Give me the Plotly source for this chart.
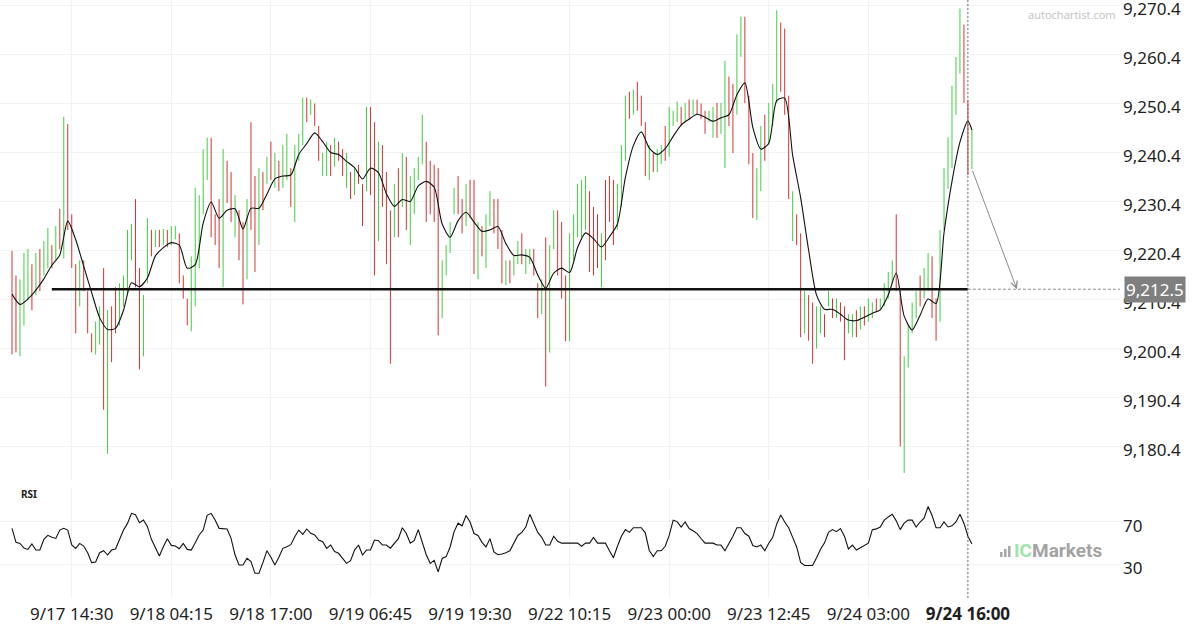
import plotly.graph_objects as go

# ---------------- data ----------------
x_labels = ["9/17 14:30", "9/18 04:15", "9/18 17:00", "9/19 06:45", "9/19 19:30",
            "9/22 10:15", "9/23 00:00", "9/23 12:45", "9/24 03:00", "<b>9/24 16:00</b>"]
label_bars = [15, 40, 65, 90, 115, 140, 165, 190, 215, 240]

high = [
    9220.3, 9215.3, 9214.5, 9219.9, 9220.7, 9217.6, 9219.9, 9220.7, 9222.3, 9225.0,
    9221.5, 9225.4, 9228.9, 9247.7, 9246.2, 9227.8, 9217.6, 9218.4, 9218.4, 9212.1,
    9203.5, 9205.9, 9209.0, 9216.8, 9208.2, 9209.0, 9212.9, 9213.7, 9215.3, 9224.6,
    9225.8, 9230.9, 9216.8, 9211.3, 9227.0, 9224.6, 9224.6, 9224.6, 9224.8, 9224.6,
    9225.4, 9225.4, 9223.9, 9215.3, 9210.6, 9219.2, 9233.2, 9231.7, 9241.1, 9243.4,
    9243.4, 9227.8, 9230.9, 9241.1, 9238.7, 9236.4, 9231.7, 9228.6, 9226.2, 9230.9,
    9246.6, 9235.6, 9237.2, 9236.4, 9239.5, 9242.6, 9240.3, 9238.7, 9241.9, 9244.2,
    9237.2, 9241.9, 9244.2, 9251.6, 9251.6, 9251.2, 9250.4, 9245.8, 9240.3, 9242.6,
    9241.9, 9243.4, 9242.6, 9241.1, 9240.3, 9236.4, 9237.2, 9237.9, 9234.0, 9249.7,
    9249.7, 9246.6, 9242.6, 9241.9, 9236.4, 9228.6, 9234.0, 9237.2, 9240.3, 9239.5,
    9235.6, 9237.2, 9239.5, 9248.1, 9242.6, 9238.7, 9237.9, 9237.2, 9218.4, 9221.5,
    9226.2, 9233.2, 9235.6, 9230.9, 9234.0, 9234.8, 9234.8, 9226.2, 9225.4, 9227.8,
    9232.5, 9230.9, 9230.9, 9224.6, 9218.4, 9218.4, 9219.2, 9222.3, 9223.9, 9220.7,
    9220.7, 9220.7, 9213.7, 9214.5, 9223.1, 9221.5, 9228.6, 9228.6, 9226.2, 9215.3,
    9223.9, 9227.8, 9234.0, 9234.8, 9235.6, 9232.5, 9229.3, 9227.8, 9223.9, 9234.8,
    9235.6, 9234.8, 9234.0, 9241.9, 9252.0, 9252.8, 9253.2, 9254.8, 9252.0, 9246.6,
    9241.9, 9240.3, 9241.1, 9241.9, 9245.8, 9249.7, 9248.9, 9250.8, 9249.7, 9250.5,
    9251.2, 9251.2, 9251.2, 9250.4, 9248.9, 9248.9, 9249.7, 9250.5, 9250.5, 9259.1,
    9255.9, 9254.4, 9264.5, 9268.1, 9268.1, 9252.0, 9240.3, 9237.2, 9245.8, 9248.1,
    9250.5, 9254.4, 9269.4, 9266.9, 9265.7, 9252.0, 9232.5, 9227.8, 9223.9, 9212.1,
    9211.3, 9209.8, 9209.0, 9209.0, 9207.4, 9212.1, 9210.6, 9210.6, 9209.8, 9209.0,
    9207.4, 9207.4, 9208.2, 9209.0, 9209.0, 9210.6, 9209.8, 9210.6, 9210.6, 9213.7,
    9216.0, 9218.4, 9227.8, 9212.1, 9198.8, 9205.1, 9209.8, 9212.1, 9215.3, 9216.8,
    9219.9, 9219.2, 9210.6, 9224.6, 9237.2, 9243.5, 9254.0, 9259.9, 9269.8, 9266.5,
    9251.0, 9245.2,
]

low = [
    9199.2, 9199.6, 9198.8, 9205.1, 9210.6, 9208.2, 9211.3, 9212.1, 9215.3, 9216.8,
    9216.8, 9218.4, 9220.7, 9218.8, 9224.6, 9216.8, 9203.5, 9209.0, 9212.1, 9203.5,
    9199.6, 9199.2, 9201.2, 9187.9, 9178.9, 9197.6, 9203.5, 9205.1, 9209.0, 9211.3,
    9218.4, 9212.9, 9196.1, 9198.8, 9213.7, 9219.2, 9221.1, 9221.1, 9221.5, 9221.1,
    9221.5, 9222.7, 9213.7, 9210.6, 9205.1, 9203.9, 9209.0, 9216.8, 9227.8, 9234.8,
    9223.1, 9221.5, 9216.8, 9212.9, 9230.1, 9226.2, 9223.1, 9218.4, 9209.4, 9214.5,
    9224.6, 9216.0, 9221.5, 9228.6, 9234.0, 9234.8, 9233.2, 9232.5, 9233.2, 9234.8,
    9229.3, 9226.2, 9238.7, 9241.9, 9246.6, 9248.1, 9245.8, 9238.7, 9235.6, 9235.6,
    9235.6, 9237.5, 9238.7, 9235.6, 9233.2, 9230.9, 9231.7, 9234.0, 9225.4, 9232.5,
    9231.7, 9215.3, 9222.3, 9229.3, 9217.6, 9197.3, 9223.1, 9223.1, 9229.3, 9224.6,
    9221.5, 9227.8, 9234.8, 9238.0, 9226.2, 9227.8, 9226.2, 9203.1, 9206.6, 9215.3,
    9219.9, 9227.8, 9227.8, 9223.9, 9225.4, 9227.0, 9215.6, 9214.5, 9219.2, 9216.8,
    9225.4, 9223.9, 9220.7, 9213.7, 9213.3, 9213.7, 9215.3, 9217.6, 9217.6, 9215.6,
    9217.6, 9215.3, 9206.6, 9207.4, 9192.6, 9199.6, 9220.7, 9215.3, 9210.6, 9201.9,
    9201.9, 9218.4, 9223.1, 9223.1, 9224.6, 9216.0, 9215.3, 9216.8, 9212.9, 9218.4,
    9226.2, 9221.5, 9224.6, 9229.3, 9238.7, 9247.3, 9248.1, 9248.9, 9245.8, 9235.6,
    9234.8, 9236.4, 9236.4, 9238.0, 9238.7, 9239.5, 9245.8, 9246.6, 9245.8, 9246.6,
    9247.3, 9248.1, 9248.1, 9247.3, 9244.2, 9246.6, 9243.4, 9243.4, 9244.2, 9237.2,
    9245.8, 9240.3, 9248.1, 9259.9, 9250.5, 9238.0, 9227.0, 9226.6, 9232.5, 9238.7,
    9241.9, 9245.8, 9250.5, 9252.8, 9248.1, 9230.9, 9222.3, 9221.5, 9202.7, 9203.5,
    9202.0, 9197.3, 9200.4, 9203.5, 9202.7, 9209.0, 9206.6, 9206.6, 9205.9, 9198.0,
    9203.5, 9202.7, 9202.7, 9204.3, 9205.1, 9205.9, 9206.6, 9207.8, 9208.2, 9209.0,
    9210.6, 9213.7, 9212.1, 9180.4, 9175.0, 9196.5, 9203.5, 9206.6, 9209.0, 9210.6,
    9212.1, 9206.6, 9202.0, 9205.9, 9224.6, 9233.0, 9237.2, 9248.1, 9256.5, 9250.5,
    9235.8, 9237.0,
]

open_ = [
    9214, 9212, 9203, 9209, 9213, 9216, 9213, 9219, 9217, 9219,
    9220.5, 9220, 9227, 9222, 9240, 9226, 9216, 9211, 9217, 9211,
    9203, 9200.5, 9203, 9208, 9190, 9206, 9211, 9206, 9211, 9214,
    9220, 9226, 9214, 9201, 9215, 9224, 9221.5, 9224, 9222, 9224,
    9222, 9223, 9223, 9215, 9210, 9206, 9214, 9220, 9230, 9237,
    9242, 9227, 9229, 9218, 9238, 9235, 9225, 9228, 9224, 9216,
    9242, 9233, 9224, 9235.5, 9235, 9241, 9234.5, 9238, 9235, 9237,
    9236.5, 9229, 9239.5, 9243, 9251, 9248.5, 9250, 9245.5, 9236, 9237,
    9241, 9238, 9242, 9240.5, 9234, 9236, 9232.5, 9237.5, 9233.5, 9234,
    9248, 9240, 9225, 9240.5, 9234, 9226, 9224.5, 9235.5, 9231, 9238,
    9223.5, 9229, 9235.5, 9239.5, 9241, 9237, 9236.5, 9232, 9208, 9216,
    9221, 9228.5, 9234.5, 9230, 9226.5, 9234, 9229, 9216.5, 9224.5, 9218.5,
    9226.5, 9230, 9229.5, 9223, 9214, 9217.5, 9216, 9218.5, 9223, 9216.5,
    9218, 9220, 9213, 9208.5, 9215, 9202, 9221.5, 9227, 9224, 9213.5,
    9204, 9219.5, 9224.5, 9225, 9226, 9230, 9227.5, 9226, 9214.5, 9232,
    9234.5, 9233, 9226, 9231, 9240.5, 9252, 9249, 9254, 9251.5, 9245.5,
    9236, 9240, 9237.2, 9238.5, 9245, 9240.5, 9246.2, 9247, 9249.3, 9247,
    9250.8, 9248.5, 9250.8, 9250, 9248.5, 9246.8, 9244, 9250, 9245, 9243,
    9255, 9253, 9249, 9261, 9266, 9250, 9239, 9228, 9234, 9247,
    9243, 9247, 9252, 9265, 9262, 9249, 9223.5, 9227, 9221, 9204.5,
    9210.5, 9208, 9201.5, 9204.5, 9207, 9209.5, 9210, 9207.2, 9209.5, 9208,
    9204, 9203.5, 9207.5, 9205, 9208.6, 9206.5, 9207, 9210.3, 9208.5, 9209.5,
    9211.2, 9214.2, 9225, 9211, 9178, 9197.5, 9204.2, 9207.2, 9214.8, 9211.2,
    9213, 9218, 9209.8, 9207, 9225.5, 9234, 9239, 9249.5, 9257.5, 9265.5,
    9250, 9237.5,
]

close = [
    9205, 9203, 9211, 9216, 9218, 9210, 9218, 9214, 9221, 9223.5,
    9218, 9224, 9222, 9240, 9227, 9219, 9206, 9216, 9213, 9205,
    9200.5, 9204, 9207, 9193, 9204, 9199, 9205, 9212, 9214, 9222,
    9224.5, 9215, 9200, 9209, 9225, 9220.5, 9224, 9221.5, 9224.3, 9221.8,
    9225, 9225, 9215, 9211.5, 9206, 9217, 9230, 9229, 9239, 9242,
    9226, 9222.5, 9219, 9238, 9231.5, 9228, 9230, 9220, 9212, 9229,
    9227, 9219, 9235, 9230, 9238.5, 9236, 9239, 9233.5, 9240.5, 9243,
    9230.5, 9240, 9243.5, 9250.5, 9247.5, 9250.8, 9246.5, 9239.5, 9239.5, 9241.5,
    9236.5, 9242.5, 9239.5, 9236.5, 9239.5, 9232, 9236.5, 9234.5, 9226.5, 9247,
    9234, 9220, 9240, 9231, 9220, 9210, 9232.5, 9225, 9239, 9227,
    9233.5, 9236, 9239, 9246.5, 9228, 9229.5, 9228, 9207, 9216.5, 9220.5,
    9225.5, 9232.5, 9229, 9225, 9233, 9228.5, 9218, 9224.5, 9220, 9226,
    9231.5, 9225, 9222.5, 9215, 9217.5, 9214.5, 9218.5, 9221.5, 9218.5, 9220,
    9220.2, 9216, 9207.5, 9213.5, 9197, 9219, 9227.5, 9217, 9212.5, 9203.5,
    9221.5, 9226.5, 9232.5, 9232, 9234, 9218.5, 9217, 9218.5, 9222, 9221,
    9227.5, 9223, 9232.5, 9240, 9250, 9248.5, 9252.5, 9250, 9247, 9237.5,
    9240.5, 9237.2, 9240.5, 9241.5, 9240, 9248.5, 9248.5, 9250.2, 9246.5, 9250,
    9248, 9250.8, 9248.5, 9247.8, 9245, 9248.6, 9249, 9244.2, 9250, 9256,
    9247, 9242, 9263, 9267, 9252, 9240, 9229, 9236, 9244, 9240,
    9249.5, 9253, 9266, 9255, 9250, 9233, 9231, 9222.5, 9205, 9211,
    9203.5, 9199, 9208, 9208.5, 9203.5, 9211.5, 9207.2, 9210, 9206.5, 9200,
    9207, 9206.8, 9203.5, 9208.5, 9205.6, 9210, 9209.5, 9208.2, 9210.3, 9213.2,
    9215.5, 9218, 9214, 9184, 9196, 9204, 9209, 9211.5, 9210, 9216.2,
    9219, 9208, 9203, 9223, 9236, 9242.5, 9252.5, 9258.5, 9268.5, 9252,
    9237, 9244.5,
]

# moving average, sampled every second bar (plus the last bar)
ma_bars = list(range(0, 241, 2)) + [241]
ma = [
    9211.5, 9209.4, 9210.5, 9212.3, 9214.6, 9217.4, 9219.5, 9226.4, 9222.6, 9217.2,
    9211.8, 9206.7, 9204.3, 9204.5, 9208.2, 9213.8, 9213.0, 9214.8, 9219.3, 9221.0,
    9222.0, 9221.5, 9216.8, 9217.5, 9226.0, 9230.3, 9227.0, 9228.6, 9228.9, 9224.8,
    9229.0, 9229.0, 9231.9, 9235.0, 9235.6, 9235.8, 9240.0, 9242.2, 9244.4, 9242.6,
    9240.4, 9240.0, 9238.6, 9237.3, 9235.0, 9237.2, 9236.3, 9232.0, 9229.4, 9230.8,
    9230.4, 9233.6, 9234.5, 9233.3, 9225.8, 9223.1, 9226.5, 9228.2, 9226.2, 9224.3,
    9224.6, 9225.3, 9221.8, 9219.4, 9219.5, 9219.0, 9215.4, 9212.7, 9215.8, 9216.8,
    9215.9, 9221.0, 9224.0, 9222.8, 9221.1, 9223.2, 9225.8, 9235.3, 9241.8, 9244.6,
    9241.3, 9240.0, 9241.2, 9243.7, 9246.0, 9247.2, 9248.2, 9247.6, 9246.8, 9247.5,
    9248.1, 9252.2, 9254.6, 9245.5, 9241.1, 9242.3, 9251.0, 9251.5, 9239.8, 9231.2,
    9220.5, 9211.3, 9208.4, 9208.4, 9207.4, 9206.2, 9206.1, 9206.8, 9207.6, 9208.3,
    9211.3, 9215.8, 9207.0, 9204.2, 9207.2, 9210.5, 9209.6, 9224.0, 9234.5, 9242.5,
    9246.8, 9245.0,
]

rsi = [
    63.7, 50.5, 49.5, 45.0, 43.8, 48.9, 43.2, 43.2, 53.3, 57.1,
    55.2, 54.2, 62.1, 63.7, 62.1, 48.0, 44.8, 49.5, 47.0, 40.7,
    31.3, 31.9, 40.7, 42.6, 38.5, 43.2, 44.2, 52.7, 62.1, 68.4,
    77.9, 76.6, 69.1, 71.6, 65.3, 53.3, 44.8, 37.6, 46.4, 53.9,
    47.6, 47.0, 44.5, 49.5, 43.8, 43.2, 50.2, 57.4, 62.1, 76.0,
    77.9, 71.6, 63.7, 63.7, 63.1, 54.2, 38.5, 29.1, 29.1, 35.4,
    32.2, 21.2, 21.2, 31.3, 42.6, 36.3, 29.1, 36.3, 44.8, 46.4,
    48.3, 55.8, 62.1, 58.0, 63.1, 59.0, 57.4, 52.7, 51.1, 44.8,
    48.0, 41.7, 40.1, 35.4, 30.6, 33.2, 43.2, 48.0, 38.5, 43.2,
    43.2, 52.7, 52.0, 48.0, 48.0, 45.0, 50.0, 54.0, 64.3, 58.8,
    49.7, 52.3, 62.5, 49.7, 38.8, 30.5, 33.4, 22.5, 35.2, 37.0,
    46.1, 60.6, 68.6, 66.1, 75.9, 69.7, 58.8, 57.0, 50.5, 46.1,
    54.0, 41.5, 38.8, 39.5, 40.6, 42.5, 50.5, 57.0, 59.9, 65.0,
    77.0, 67.9, 59.9, 55.2, 47.9, 47.9, 56.3, 51.5, 49.7, 49.7,
    49.7, 49.7, 49.7, 46.8, 49.7, 49.7, 55.2, 49.7, 49.7, 49.7,
    42.5, 35.9, 46.8, 56.3, 62.5, 59.9, 64.3, 64.3, 64.3, 59.5,
    42.8, 37.0, 42.5, 42.5, 46.8, 57.0, 71.5, 70.1, 65.0, 69.7,
    63.5, 61.4, 58.8, 54.1, 49.7, 49.7, 49.7, 47.9, 47.9, 42.5,
    49.0, 56.3, 64.3, 64.3, 58.8, 56.3, 47.5, 46.1, 47.9, 42.5,
    49.7, 55.2, 67.9, 76.3, 69.7, 64.3, 55.2, 46.1, 31.5, 28.6,
    28.6, 28.6, 36.0, 44.0, 50.0, 60.0, 62.5, 60.6, 63.5, 56.3,
    44.3, 47.9, 43.2, 45.4, 48.3, 49.7, 62.5, 63.2, 65.0, 71.5,
    74.5, 77.0, 70.8, 62.5, 68.6, 71.5, 71.5, 65.0, 69.7, 73.4,
    84.3, 75.9, 64.3, 64.3, 69.7, 65.0, 66.1, 69.7, 77.0, 68.6,
    56.3, 49.0,
]

price_ticks = [9180.4, 9190.4, 9200.4, 9210.4, 9220.4, 9230.4, 9240.4, 9250.4, 9260.4, 9270.4]
rsi_ticks = [30, 70]

support_level = 9212.5
support_start_bar = 10
current_bar = 240
forecast_start = (241, 9237.0)
forecast_end_bar = 252.3

bars = list(range(len(high)))

# ---------------- geometry / styles ----------------
W, H = 1200, 630
PL, PR, PT, PB = 0, 1120, 0, 598          # plot area in pixels
BAR_PX, FIRST_BAR_PX = 3.983, 12.0
x_range = [(PL - FIRST_BAR_PX) / BAR_PX, (PR - FIRST_BAR_PX) / BAR_PX]
price_range = [9173.36, 9271.52]
rsi_range = [-2.15, 101.87]
price_dom = [(PB - 481) / (PB - PT), 1.0]
rsi_dom = [0.0, (PB - 488) / (PB - PT)]

GREEN, RED = "#3fcf3f", "#d83232"
GRID = "#f2f2f2"
FONT = "Noto Sans"


def px(xp):
    return (xp - PL) / (PR - PL)


def py(yp):
    return 1 - (yp - PT) / (PB - PT)


fig = go.Figure()

fig.add_trace(go.Ohlc(
    x=bars, open=open_, high=high, low=low, close=close,
    xaxis="x", yaxis="y", tickwidth=0,
    increasing=dict(line=dict(color=GREEN, width=1)),
    decreasing=dict(line=dict(color=RED, width=1)),
    showlegend=False,
))

fig.add_trace(go.Scatter(
    x=ma_bars, y=ma, mode="lines", xaxis="x", yaxis="y",
    line=dict(color="#111111", width=1.1, shape="spline", smoothing=0.7),
    hoverinfo="skip", showlegend=False,
))

fig.add_trace(go.Scatter(
    x=[support_start_bar, current_bar], y=[support_level, support_level],
    mode="lines", xaxis="x", yaxis="y",
    line=dict(color="#111111", width=2.4), hoverinfo="skip", showlegend=False,
))

fig.add_trace(go.Scatter(
    x=bars, y=rsi, mode="lines", xaxis="x2", yaxis="y2",
    line=dict(color="#111111", width=1.1), hoverinfo="skip", showlegend=False,
))

fig.update_layout(
    width=W, height=H,
    margin=dict(l=PL, r=W - PR, t=PT, b=H - PB, autoexpand=False),
    paper_bgcolor="white", plot_bgcolor="white",
    font=dict(family=FONT, size=17, color="#1e1e1e"),
    showlegend=False,
    xaxis=dict(domain=[0, 1], anchor="y", range=x_range, tickvals=label_bars,
               showticklabels=False, showgrid=True, gridcolor=GRID, gridwidth=1,
               zeroline=False, showline=False, ticks="", automargin=False,
               rangeslider=dict(visible=False)),
    xaxis2=dict(domain=[0, 1], anchor="y2", range=x_range, matches="x",
                tickvals=label_bars, ticktext=x_labels, showgrid=True,
                gridcolor=GRID, zeroline=False, showline=False, ticks="",
                automargin=False, ticklabelstandoff=4,
                tickfont=dict(size=17, color="#1e1e1e")),
    yaxis=dict(domain=price_dom, anchor="x", range=price_range, side="right",
               tickvals=price_ticks, tickformat=",.1f", showgrid=True,
               gridcolor=GRID, zeroline=False, showline=False, ticks="",
               automargin=False, ticklabelshift=4, ticklabelstandoff=2,
               ticklabeloverflow="allow"),
    yaxis2=dict(domain=rsi_dom, anchor="x2", range=rsi_range, side="right",
                tickvals=rsi_ticks, showgrid=True, gridcolor=GRID,
                zeroline=False, showline=False, ticks="", automargin=False,
                ticklabelshift=4, ticklabelstandoff=2, ticklabeloverflow="allow"),
)

# projection guide lines
fig.add_shape(type="line", xref="x", yref="y", x0=current_bar, x1=x_range[1],
              y0=support_level, y1=support_level,
              line=dict(color="#8c8c8c", width=1, dash="3px,2px"))
fig.add_shape(type="line", xref="x", yref="paper", x0=current_bar, x1=current_bar,
              y0=0, y1=1, line=dict(color="#6e6e6e", width=1, dash="2px,2px"))

# forecast arrow
fig.add_annotation(x=forecast_end_bar, y=support_level, xref="x", yref="y",
                   ax=forecast_start[0], ay=forecast_start[1], axref="x", ayref="y",
                   text="", showarrow=True, arrowhead=5, arrowsize=1.3,
                   arrowwidth=1, arrowcolor="#8a8a8a")

# level price tag
fig.add_annotation(x=px(PR + 4), y=support_level, xref="paper", yref="y",
                   xanchor="left", yanchor="middle", text="9,212.5",
                   showarrow=False, bgcolor="#7f7f7f", borderpad=1,
                   font=dict(color="white", size=17, family=FONT))

# watermark / labels
fig.add_annotation(x=px(1118), y=py(15), xref="paper", yref="paper",
                   xanchor="right", yanchor="middle", text="autochartist.com",
                   showarrow=False, font=dict(color="#c4c4c4", size=11, family=FONT))
fig.add_annotation(x=px(19), y=py(494), xref="paper", yref="paper",
                   xanchor="left", yanchor="middle", text="<b>RSI</b>",
                   showarrow=False, font=dict(color="#222222", size=10, family=FONT))
fig.add_annotation(x=px(1012), y=py(550), xref="paper", yref="paper",
                   xanchor="left", yanchor="middle",
                   text="<b><span style='color:#9ee3a8'>IC</span>Markets</b>",
                   showarrow=False, font=dict(color="#a3a3a3", size=19, family="Roboto"))
for x0, y0 in [(1000, 552), (1004, 549), (1008, 546)]:
    fig.add_shape(type="rect", xref="paper", yref="paper",
                  x0=px(x0), x1=px(x0 + 2.6), y0=py(557), y1=py(y0),
                  fillcolor="#a8a8a8", line=dict(width=0))

fig.write_html("out.html",
               config={"displayModeBar": False},
               post_script="document.body.style.margin='0px';"
                           "document.body.style.overflow='hidden';")
